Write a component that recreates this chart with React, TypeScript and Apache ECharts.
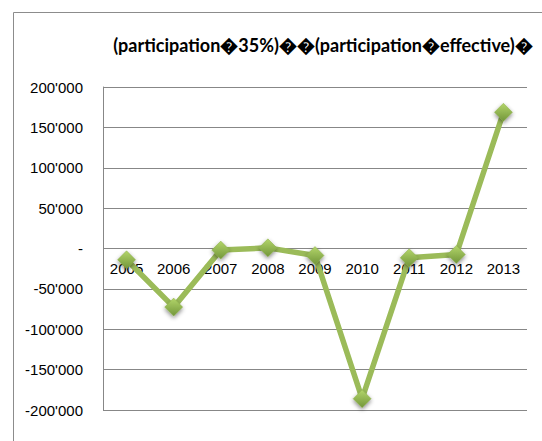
import React, { useEffect, useRef } from "react";
import * as echarts from "echarts";

const titleText = "(participation\uFFFD35%)\uFFFD\uFFFD(participation\uFFFDeffective)\uFFFD";
const categories = ["2005", "2006", "2007", "2008", "2009", "2010", "2011", "2012", "2013"];
const values = [-14000, -72600, -2000, 800, -8700, -186000, -11500, -7400, 168700];

function fmt(v: number): string {
  if (v === 0) return "-";
  const neg = v < 0;
  const s = Math.abs(v).toString().replace(/\B(?=(\d{3})+(?!\d))/g, "'");
  return (neg ? "-" : "") + s;
}

export default function App() {
  const ref = useRef<HTMLDivElement>(null);
  useEffect(() => {
    document.body.style.margin = "0";
    const chart = echarts.init(ref.current!, null, { renderer: "svg" });
    chart.setOption({
      animation: false,
      backgroundColor: "#ffffff",
      title: {
        text: titleText,
        left: 318,
        top: 31,
        textAlign: "center",
        textStyle: {
          fontFamily: "Lato",
          fontWeight: "bold",
          fontSize: 18,
          color: "#000000",
        },
      },
      graphic: [
        {
          type: "rect",
          shape: { x: 13.5, y: 12.5, width: 600, height: 500 },
          style: { fill: "none", stroke: "#8c8c8c", lineWidth: 1 },
          silent: true,
        },
      ],
      grid: { left: 103, top: 87, right: 15, bottom: 31 },
      xAxis: {
        type: "category",
        data: categories,
        boundaryGap: true,
        offset: -161,
        axisLine: { show: false, onZero: false },
        axisTick: { show: false },
        axisLabel: {
          margin: 12,
          fontFamily: "Liberation Sans",
          fontSize: 15,
          color: "#000000",
        },
        splitLine: { show: false },
      },
      yAxis: {
        type: "value",
        min: -200000,
        max: 200000,
        interval: 50000,
        axisLine: { show: true, lineStyle: { color: "#878787", width: 1 } },
        axisTick: { show: false },
        axisLabel: {
          margin: 20,
          formatter: (v: number) => fmt(v),
          fontFamily: "Liberation Sans",
          fontSize: 15,
          color: "#000000",
        },
        splitLine: { show: true, lineStyle: { color: "#878787", width: 1 } },
      },
      series: [
        {
          type: "line",
          data: values,
          symbol: "diamond",
          symbolSize: 18,
          lineStyle: { color: "#9BBB59", width: 5.5 },
          itemStyle: {
            color: new echarts.graphic.LinearGradient(0, 0, 0, 1, [
              { offset: 0, color: "#b3d56a" },
              { offset: 1, color: "#72963a" },
            ]),
            borderColor: "#8aae4a",
            borderWidth: 0.5,
            shadowBlur: 4,
            shadowColor: "rgba(0,0,0,0.45)",
            shadowOffsetY: 2,
          },
          z: 3,
        },
      ],
    });
    return () => chart.dispose();
  }, []);
  return <div ref={ref} style={{ width: 542, height: 441 }} />;
}
